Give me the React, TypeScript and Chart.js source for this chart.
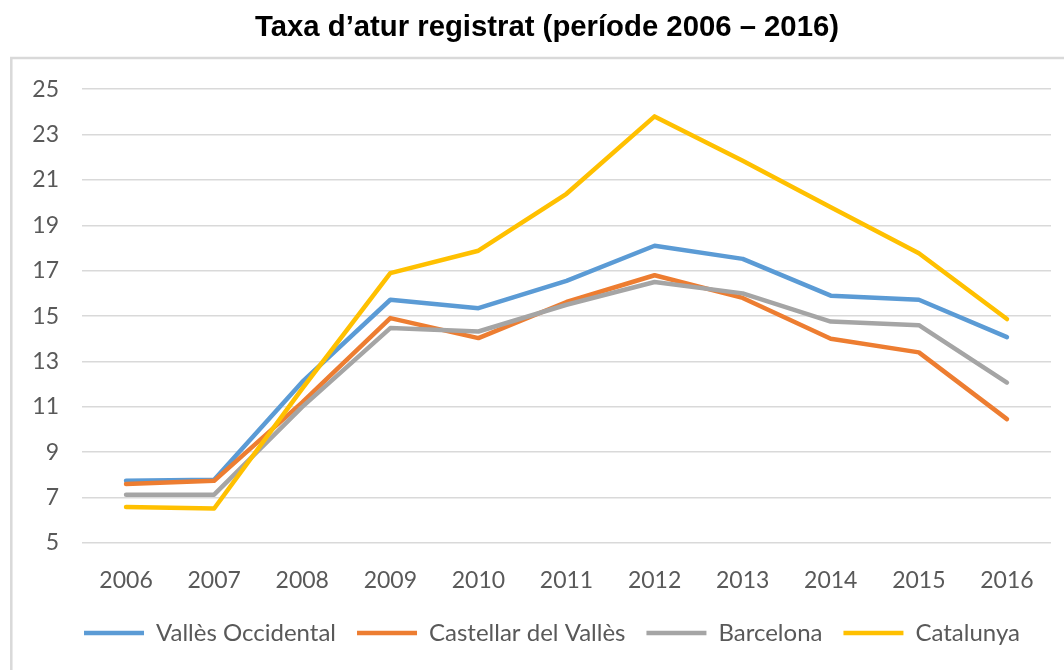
import React, { useEffect, useRef } from "react";
import { Chart, registerables } from "chart.js";

Chart.register(...registerables);

const titleText = "Taxa d\u2019atur registrat (per\u00edode 2006 \u2013 2016)";
const years = ["2006", "2007", "2008", "2009", "2010", "2011", "2012", "2013", "2014", "2015", "2016"];
const seriesNames = ["Vall\u00e8s Occidental", "Castellar del Vall\u00e8s", "Barcelona", "Catalunya"];
const vallesOccidental = [7.74, 7.79, 12.1, 15.72, 15.35, 16.55, 18.1, 17.52, 15.9, 15.72, 14.07];
const castellar = [7.6, 7.74, 11.2, 14.91, 14.03, 15.62, 16.8, 15.8, 14.0, 13.4, 10.46];
const barcelona = [7.13, 7.13, 11.0, 14.47, 14.32, 15.5, 16.5, 16.0, 14.76, 14.6, 12.07];
const catalunya = [6.59, 6.52, 11.8, 16.89, 17.88, 20.39, 23.8, 21.85, 19.8, 17.77, 14.87];
const colors = ["#5B9BD5", "#ED7D31", "#A5A5A5", "#FFC000"];

const frameBorder = {
  id: "frameBorder",
  afterLayout(chart: any) {
    if (chart.legend) {
      chart.legend.left += 10.5;
      chart.legend.right += 10.5;
    }
    if (chart.titleBlock) {
      chart.titleBlock.left += 5.5;
      chart.titleBlock.right += 5.5;
    }
  },
  beforeDraw(chart: any) {
    const ctx = chart.ctx;
    ctx.save();
    ctx.fillStyle = "#ffffff";
    ctx.fillRect(0, 0, chart.width, chart.height);
    ctx.strokeStyle = "#d9d9d9";
    ctx.lineWidth = 2.5;
    ctx.strokeRect(11.3, 58, 1200, 800);
    ctx.restore();
  },
};

export default function App() {
  const ref = useRef<HTMLCanvasElement | null>(null);
  useEffect(() => {
    if (!ref.current) return;
    const allSeries = [vallesOccidental, castellar, barcelona, catalunya];
    const chart = new Chart(ref.current, {
      type: "line",
      data: {
        labels: years,
        datasets: allSeries.map((d, i) => ({
          label: seriesNames[i],
          data: d,
          borderColor: colors[i],
          backgroundColor: colors[i],
          borderWidth: 4.5,
          borderCapStyle: "round",
          borderJoinStyle: "round",
          pointRadius: 0,
          pointStyle: "line",
          tension: 0,
          fill: false,
          order: 3 - i,
        })),
      },
      options: {
        responsive: true,
        maintainAspectRatio: false,
        animation: false,
        layout: { padding: { top: 0, left: 32, right: 13, bottom: 15 } },
        plugins: {
          title: {
            display: true,
            text: titleText,
            color: "#000000",
            font: { family: "'Liberation Sans', Arial, sans-serif", size: 29.3, weight: "bold" },
            padding: { top: 10, bottom: 44 },
          },
          legend: {
            display: true,
            position: "bottom",
            labels: {
              usePointStyle: true,
              pointStyleWidth: 60,
              boxHeight: 24,
              padding: 21,
              color: "#595959",
              font: { family: "Lato, sans-serif", size: 24 },
              sort: (a: any, b: any) => a.datasetIndex - b.datasetIndex,
            },
          },
          tooltip: { enabled: false },
        },
        scales: {
          x: {
            type: "category",
            offset: true,
            grid: { display: false },
            border: { display: false },
            ticks: {
              color: "#595959",
              font: { family: "Lato, sans-serif", size: 23 },
              padding: 15.5,
              maxRotation: 0,
              autoSkip: false,
            },
            afterFit(scale: any) {
              scale.height = 57;
            },
          },
          y: {
            min: 5,
            max: 25,
            grid: { color: "#d9d9d9", lineWidth: 1.5, drawTicks: false },
            border: { display: false },
            ticks: {
              stepSize: 2,
              color: "#595959",
              font: { family: "Lato, sans-serif", size: 23 },
              padding: 23,
            },
            afterFit(scale: any) {
              scale.width = 50;
            },
          },
        },
      },
      plugins: [frameBorder],
    } as any);
    return () => chart.destroy();
  }, []);
  return (
    <div style={{ position: "absolute", left: 0, top: 0, width: 1064, height: 670, background: "#fff" }}>
      <canvas ref={ref} />
    </div>
  );
}
